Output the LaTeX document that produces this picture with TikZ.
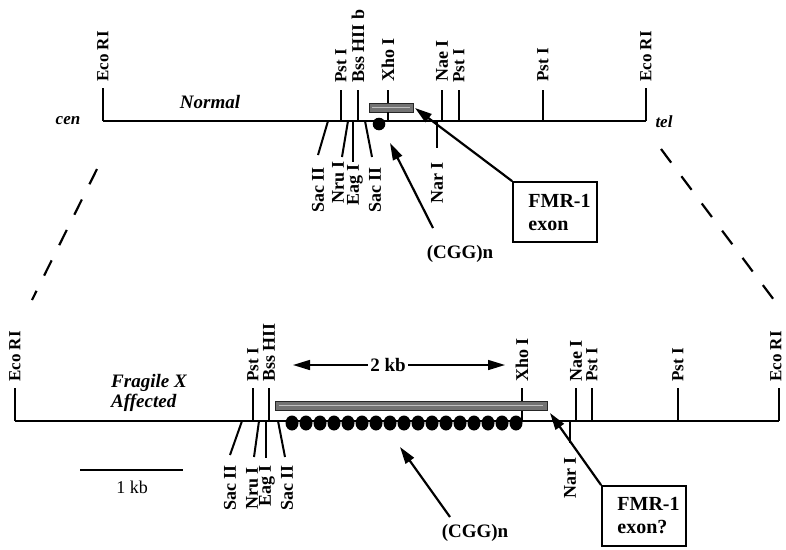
\documentclass[tikz,border=0pt]{standalone}
\usepackage{fontspec}
\setmainfont{Liberation Serif}
\usetikzlibrary{arrows.meta}
\begin{document}
\begin{tikzpicture}[x=1pt,y=-1pt,
  main/.style={line width=2.4pt},
  tick/.style={line width=2pt},
  lab/.style={font=\bfseries\fontsize{17}{17}\selectfont,rotate=90,inner sep=0pt},
  labb/.style={font=\bfseries\fontsize{18}{18}\selectfont,rotate=90,inner sep=0pt},
  ital/.style={font=\bfseries\itshape\fontsize{19}{21}\selectfont,inner sep=0pt},
  arr/.style={line width=2.2pt,-{Triangle[length=17pt,width=10pt]}},
  dimarr/.style={line width=1.5pt,{Triangle[length=17pt,width=10pt]}-{Triangle[length=17pt,width=10pt]}},
  fbox/.style={draw,line width=1.8pt,minimum width=84pt,minimum height=60pt,align=left,inner sep=0pt,font=\bfseries\fontsize{20}{25}\selectfont},
  exon/.style={fill=black!55,draw=black!85,line width=1pt},
  zoomline/.style={line width=2.2pt,dash pattern=on 17pt off 17pt}
]
\useasboundingbox (0,0) rectangle (786,549);
\fill[white] (0,0) rectangle (786,549);

%% ================= NORMAL =================
\coordinate (nL) at (103,121);
\coordinate (nR) at (646,121);
\draw[main] (nL) -- (nR);
% upper sites
\draw[tick] (nL) -- (103,88);
\node[lab,anchor=west] (nEcoL) at (103,82) {Eco RI};
\draw[tick] (341,121) -- (341,90);
\node[lab,anchor=west] (nPst1) at (341,83) {Pst I};
\draw[tick] (358,121) -- (358,90);
\node[labb,anchor=west] (nBss) at (358,83) {Bss HII b};
\draw[tick] (388,121) -- (388,90);
\node[labb,anchor=west] (nXho) at (388,82) {Xho I};
\draw[tick] (442,121) -- (442,90);
\node[labb,anchor=west] (nNae) at (442,82) {Nae I};
\draw[tick] (459,121) -- (459,90);
\node[lab,anchor=west] (nPst2) at (459,83) {Pst I};
\draw[tick] (543,121) -- (543,90);
\node[lab,anchor=west] (nPst3) at (543,82) {Pst I};
\draw[tick] (nR) -- (646,88);
\node[lab,anchor=west] (nEcoR) at (646,82) {Eco RI};
% lower sites
\draw[tick] (328,121) -- (318,155);
\node[labb,anchor=east] (nSac1) at (318,167) {Sac II};
\draw[tick] (348,121) -- (342,157);
\node[labb,anchor=east] (nNru) at (338,161) {Nru I};
\draw[tick] (353,121) -- (353,162);
\node[labb,anchor=east] (nEag) at (355,164) {Eag I};
\draw[tick] (365,121) -- (372,157);
\node[labb,anchor=east] (nSac2) at (375,167) {Sac II};
\draw[tick] (437,121) -- (437,148);
\node[labb,anchor=east] (nNar) at (437,162) {Nar I};
% exon and repeat
\node[exon,minimum width=44pt,minimum height=9pt,inner sep=0pt] (nExon) at (391,107.5) {};
\draw[black!25,line width=1.2pt] (372,107.5) -- (410,107.5);
\draw[tick] (388,112) -- (388,121);
\fill (379,124) circle (6.3);
\coordinate (nCGGt) at (390,143);
% texts
\node[ital,font=\bfseries\itshape\fontsize{17}{17}\selectfont] (cen) at (68,121) {cen};
\node[ital,font=\bfseries\itshape\fontsize{17}{17}\selectfont] (tel) at (664,122) {tel};
\node[ital] (normal) at (210,102) {Normal};
\node[fbox] (nF) at (555,212) {\hspace*{9pt}FMR-1\\[-2pt]\hspace*{9pt}exon};
\draw[arr] (nF.north west) -- (415,108);
\node[font=\bfseries\fontsize{19}{19}\selectfont,inner sep=0pt] (nCGG) at (460,254) {(CGG)n};
\draw[arr] (433,228) -- (nCGGt);

%% ================= dashed zoom lines =================
\coordinate (dL1) at (97,169);
\coordinate (dL2) at (32,300);
\coordinate (dR1) at (661,149);
\coordinate (dR2) at (774,300);
\draw[zoomline] (dL1) -- (dL2);
\draw[zoomline] (dR1) -- (dR2);

%% ================= FRAGILE X =================
\coordinate (fL) at (15,421);
\coordinate (fR) at (779,421);
\draw[main] (fL) -- (fR);
\draw[tick] (fL) -- (15,388);
\node[lab,anchor=west] (fEcoL) at (15,382) {Eco RI};
\draw[tick] (253,421) -- (253,388);
\node[lab,anchor=west] (fPst1) at (253,382) {Pst I};
\draw[tick] (269,421) -- (269,388);
\node[labb,anchor=west] (fBss) at (269,382) {Bss HII};
\draw[tick] (522,421) -- (522,388);
\node[labb,anchor=west] (fXho) at (522,382) {Xho I};
\draw[tick] (576,421) -- (576,388);
\node[labb,anchor=west] (fNae) at (576,382) {Nae I};
\draw[tick] (592,421) -- (592,388);
\node[lab,anchor=west] (fPst2) at (592,382) {Pst I};
\draw[tick] (678,421) -- (678,388);
\node[lab,anchor=west] (fPst3) at (678,382) {Pst I};
\draw[tick] (fR) -- (779,388);
\node[lab,anchor=west] (fEcoR) at (776,382) {Eco RI};
% lower sites
\draw[tick] (242,421) -- (230,455);
\node[labb,anchor=east] (fSac1) at (230,465) {Sac II};
\draw[tick] (259,421) -- (254,457);
\node[labb,anchor=east] (fNru) at (252,467) {Nru I};
\draw[tick] (266,421) -- (266,458);
\node[labb,anchor=east] (fEag) at (267,465) {Eag I};
\draw[tick] (278,421) -- (285,457);
\node[labb,anchor=east] (fSac2) at (287,465) {Sac II};
\draw[tick] (570,421) -- (570,443);
\node[labb,anchor=east] (fNar) at (570,457) {Nar I};
% exon and repeats
\node[exon,minimum width=272pt,minimum height=9pt,inner sep=0pt] (fExon) at (411,405.5) {};
\draw[black!25,line width=1.2pt] (279,405.5) -- (543,405.5);
\foreach \i in {0,...,16} \fill (292+14*\i,423) ellipse (6.5 and 7.5);
% 2 kb
\coordinate (kL) at (293,365);
\coordinate (kR) at (505,365);
\draw[dimarr] (kL) -- (kR);
\node[fill=white,inner sep=2pt,font=\bfseries\fontsize{19}{19}\selectfont] (kb2) at (388,365) {2 kb};
% texts
\node[ital,anchor=west,align=left] (frag) at (111,393) {Fragile X\\[-1pt]Affected};
\node[fbox] (fF) at (644,516) {\hspace*{9pt}FMR-1\\[-2pt]\hspace*{9pt}exon?};
\draw[arr] (fF.north west) -- (550,413);
\node[font=\bfseries\fontsize{19}{19}\selectfont,inner sep=0pt] (fCGG) at (475,533) {(CGG)n};
\coordinate (fCGGt) at (400,447);
\draw[arr] (450,517) -- (fCGGt);
% scale bar
\coordinate (sL) at (80,470);
\coordinate (sR) at (183,470);
\draw[line width=2pt] (sL) -- (sR);
\node[font=\fontsize{18}{18}\selectfont,inner sep=0pt] (s1kb) at (132,487) {1 kb};
\end{tikzpicture}
\end{document}
